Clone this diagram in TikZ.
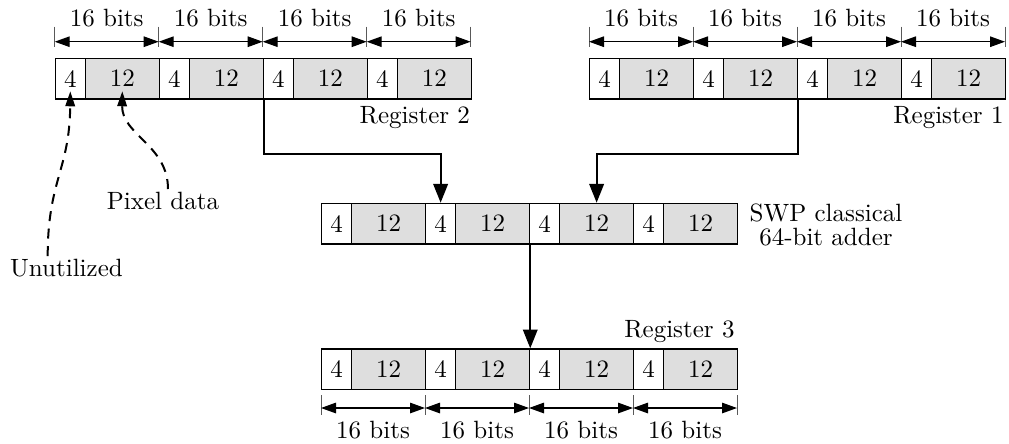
\documentclass[tikz,border=0pt]{standalone}
\usetikzlibrary{arrows.meta,calc}
\definecolor{cellgray}{HTML}{DEDEDE}
\tikzset{
  cellfour/.style={draw, line width=0.5pt, fill=white, inner sep=0pt,
    minimum width=12pt, minimum height=16.24pt, anchor=north west},
  celltwelve/.style={draw, line width=0.5pt, fill=cellgray, inner sep=0pt,
    minimum width=29.6pt, minimum height=16.24pt, anchor=north west},
  tickline/.style={line width=0.4pt, black!65},
  dimarrow/.style={line width=0.5pt, {Triangle[length=6pt,width=4.2pt]}-{Triangle[length=6pt,width=4.2pt]}},
  conn/.style={line width=0.8pt, -{Triangle[length=7.5pt,width=5.8pt]}},
  dasharr/.style={line width=0.8pt, dash pattern=on 4pt off 3pt, -{Triangle[length=6pt,width=3.8pt]}},
  reglabel/.style={anchor=base east, inner sep=0pt},
  bitslabel/.style={anchor=base, inner sep=0pt}
}
\newcommand\regdraw[3]{%
  \foreach \s in {1,...,4}{
    \node[cellfour] (#1-\s-4) at ({#2+104*(\s-1)},#3) {4};
    \node[celltwelve] (#1-\s-12) at ({#2+104*(\s-1)+30},#3) {12};
  }}
\newcommand\dimdraw[6]{%
  \foreach \s in {0,...,4}{
    \coordinate (#1-t\s) at ({#2+104*\s},#5);
    \draw[tickline] ({#2+104*\s},#3) -- ({#2+104*\s},#4);
  }
  \foreach \s [count=\p from 0] in {1,...,4}{
    \draw[dimarrow] (#1-t\p) -- (#1-t\s);
    \node[bitslabel] (#1-l\s) at ({#2+104*\s-52},#6) {16 bits};
  }}
\begin{document}
\begin{tikzpicture}[x=0.4pt,y=-0.4pt]
\useasboundingbox (0,0) rectangle (1009,443);
% registers
\regdraw{r2}{54.7}{57.7}
\regdraw{r1}{589}{57.7}
\regdraw{ad}{321}{202.7}
\regdraw{r3}{321}{348.3}
% dimension lines
\dimdraw{d2}{54.7}{26.7}{46.7}{41.7}{26.5}
\dimdraw{d1}{589}{26.7}{46.7}{41.7}{26.5}
\dimdraw{d3}{321}{395}{415}{408}{438}
% labels
\node[reglabel] (lab2) at (470.5,123.3) {Register 2};
\node[reglabel] (lab1) at (1004,123.3) {Register 1};
\node[reglabel] (lab3) at (735,337.5) {Register 3};
\node[align=center, inner sep=0pt] (swp) at (826,225) {SWP classical\\[-2.6pt]64-bit adder};
\node[anchor=base, inner sep=0pt] (ulab) at (66.5,276) {Unutilized};
\node[anchor=base, inner sep=0pt] (plab) at (163,209) {Pixel data};
% connectors
\path (ad-2-4.north) ++(0,-48.7) coordinate (k2);
\path (ad-3-12.north) ++(0,-48.7) coordinate (k1);
\draw[conn] (r2-2-12.south east) |- (k2) -- (ad-2-4.north);
\draw[conn] (r1-2-12.south east) |- (k1) -- (ad-3-12.north);
\draw[conn] (ad-2-12.south east) -- (ad-2-12.south east |- r3-3-4.north);
% dashed pointers
\coordinate (uend) at (47.7,256);
\coordinate (pend) at (168,189);
\draw[dasharr] (uend) .. controls (47.7,180) and (69.7,170) .. ($(r2-1-4.south)+(0,-8.3)$);
\draw[dasharr] (pend) .. controls (168,145) and (121.7,135) .. ($(r2-1-12.south)+(0,-8.3)$);
\end{tikzpicture}
\end{document}
